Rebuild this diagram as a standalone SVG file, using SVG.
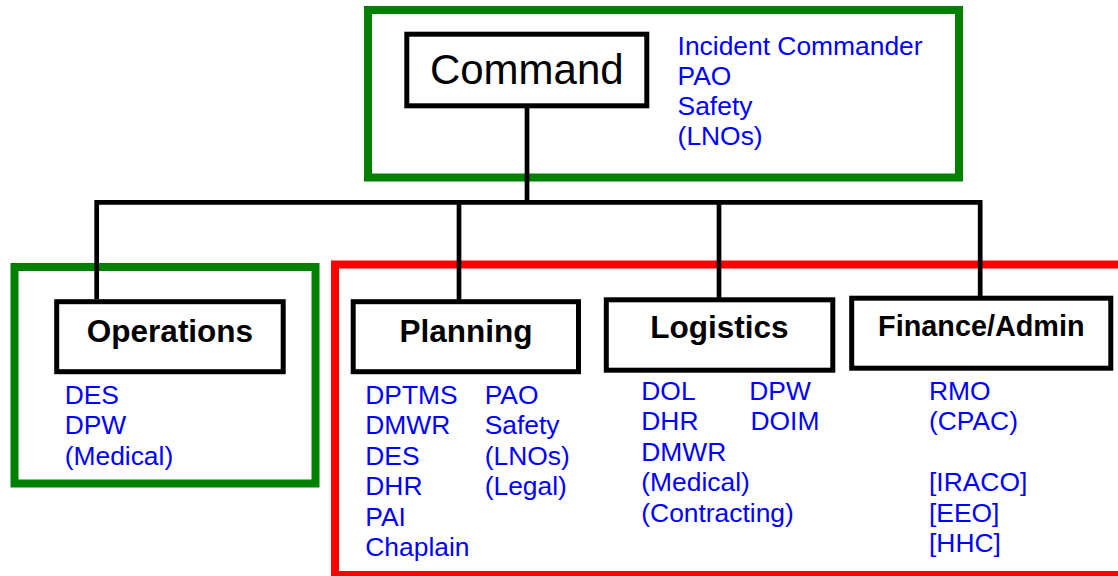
<svg xmlns="http://www.w3.org/2000/svg" width="1118" height="576" viewBox="0 0 1118 576">
<style>
.frame{fill:none;stroke-width:8}
.green{stroke:#008000}
.red{stroke:#FF0000}
.node rect{fill:#FFFFFF;stroke:#000000;stroke-width:5}
.title{font-family:"Liberation Sans",Arial,sans-serif;font-weight:bold;fill:#000000;text-anchor:middle}
.item{font-family:"Liberation Sans",Arial,sans-serif;font-size:26.4px;fill:#0000FF}
.conn{fill:none;stroke:#000000;stroke-width:4.7;stroke-linejoin:miter;stroke-linecap:butt}
</style>
<rect width="1118" height="576" fill="#FFFFFF"/>
<g id="frames">
<rect class="frame green" x="368" y="10" width="591" height="167.5"/>
<rect class="frame green" x="14.5" y="267" width="301" height="216.5"/>
<rect class="frame red" x="335" y="264.5" width="800" height="310.5"/>
</g>
<g id="connectors">
<path class="conn" d="M527 106 V202.3"/>
<path class="conn" d="M96.7 299 V202.3 H980.2 V298"/>
<path class="conn" d="M459 202.3 V302"/>
<path class="conn" d="M719 202.3 V300"/>
</g>
<g id="command" class="node">
<rect x="406.8" y="34.2" width="240" height="71.6"/>
<text x="526.8" y="84" font-family="Liberation Sans, Arial, sans-serif" font-size="42" text-anchor="middle" fill="#000000">Command</text>
<text class="item" x="677.6" y="55">Incident Commander</text>
<text class="item" x="677.6" y="85">PAO</text>
<text class="item" x="677.6" y="115">Safety</text>
<text class="item" x="677.6" y="145">(LNOs)</text>
</g>
<g id="operations" class="node">
<rect x="56.7" y="301.7" width="226.5" height="70"/>
<text class="title" x="170" y="341.7" font-size="31.5">Operations</text>
<text class="item" x="64.7" y="403.5">DES</text>
<text class="item" x="64.7" y="434">DPW</text>
<text class="item" x="64.7" y="464.5">(Medical)</text>
</g>
<g id="planning" class="node">
<rect x="353.2" y="301.7" width="225.3" height="70"/>
<text class="title" x="465.9" y="341.7" font-size="31.5">Planning</text>
<text class="item" x="365.3" y="403.5">DPTMS</text>
<text class="item" x="365.3" y="434">DMWR</text>
<text class="item" x="365.3" y="464.5">DES</text>
<text class="item" x="365.3" y="495">DHR</text>
<text class="item" x="365.3" y="525.5">PAI</text>
<text class="item" x="365.3" y="556">Chaplain</text>
<text class="item" x="484.7" y="403.5">PAO</text>
<text class="item" x="484.7" y="434">Safety</text>
<text class="item" x="484.7" y="464.5">(LNOs)</text>
<text class="item" x="484.7" y="495">(Legal)</text>
</g>
<g id="logistics" class="node">
<rect x="606.3" y="299.8" width="226.5" height="70.4"/>
<text class="title" x="719.5" y="338.3" font-size="31.5">Logistics</text>
<text class="item" x="641.3" y="399.5">DOL</text>
<text class="item" x="641.3" y="430">DHR</text>
<text class="item" x="641.3" y="460.5">DMWR</text>
<text class="item" x="641.3" y="491">(Medical)</text>
<text class="item" x="641.3" y="521.5">(Contracting)</text>
<text class="item" x="749.3" y="399.5">DPW</text>
<text class="item" x="750.5" y="430">DOIM</text>
</g>
<g id="finance" class="node">
<rect x="851.7" y="298.2" width="259.1" height="70"/>
<text class="title" x="981.3" y="335.7" font-size="28.8">Finance/Admin</text>
<text class="item" x="929" y="399.5">RMO</text>
<text class="item" x="929" y="430">(CPAC)</text>
<text class="item" x="929" y="491">[IRACO]</text>
<text class="item" x="929" y="521.5">[EEO]</text>
<text class="item" x="929" y="552">[HHC]</text>
</g>
</svg>
